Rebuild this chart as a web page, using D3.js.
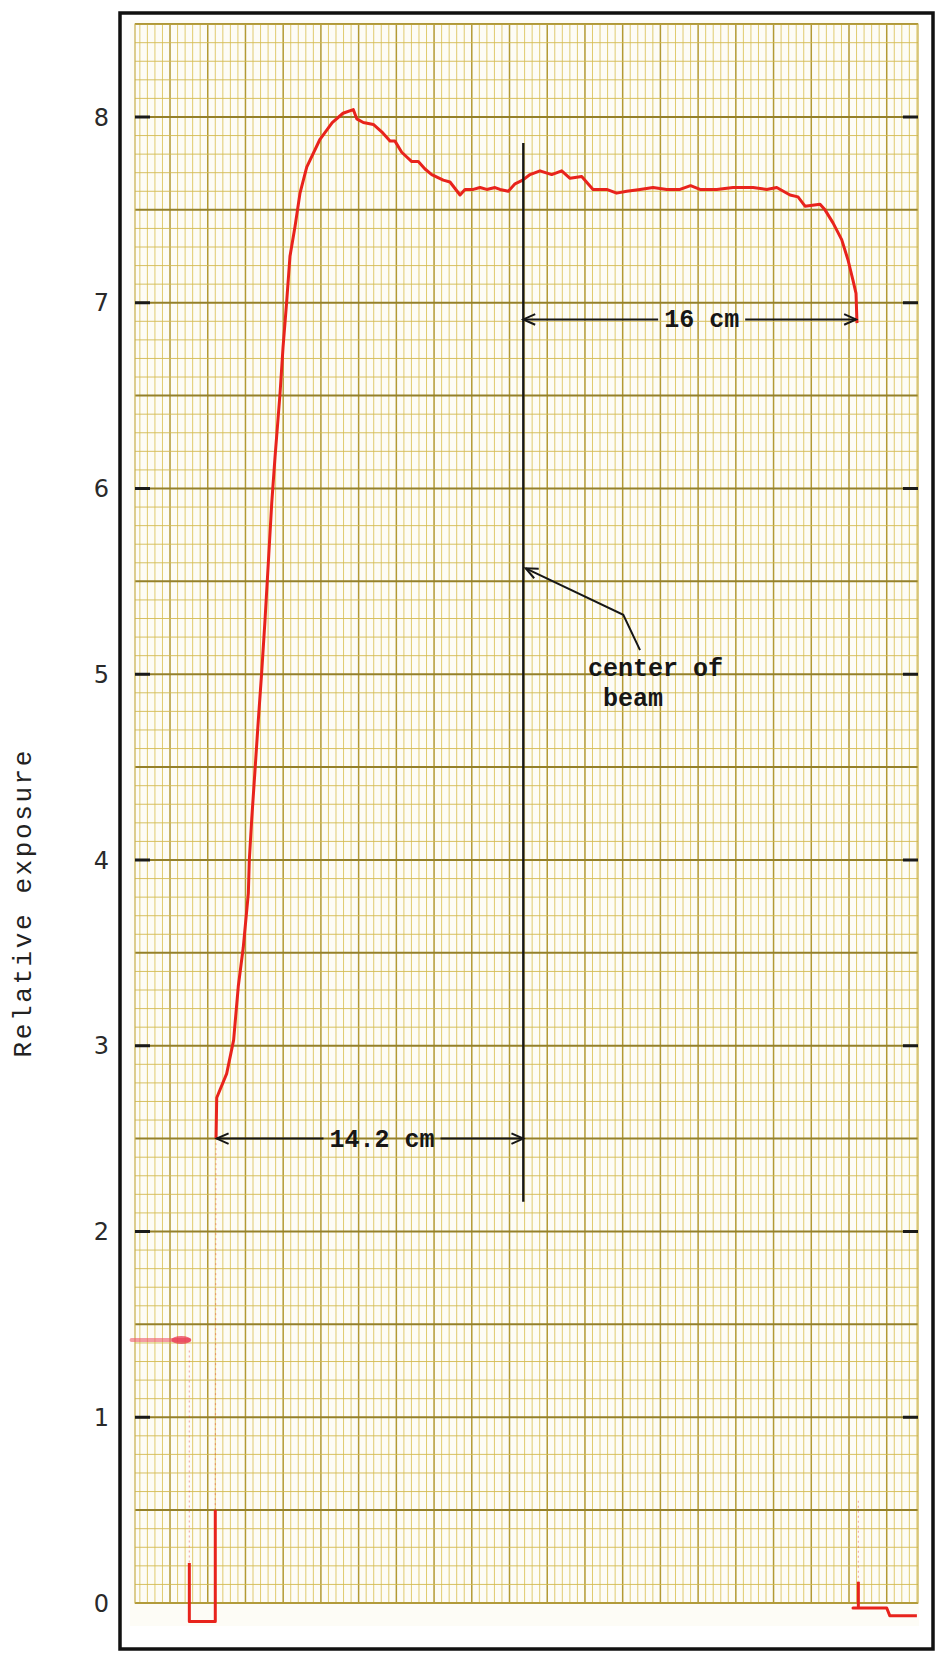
<!DOCTYPE html>
<html>
<head>
<meta charset="utf-8">
<script src="https://cdn.jsdelivr.net/npm/d3@7"></script>
<style>
  body { margin: 0; background: #fff; }
  svg { display: block; }
</style>
</head>
<body>
<div id="chart"></div>
<script>
// x is measured in small divisions of the chart paper, y is relative exposure
let yTicks = [0, 1, 2, 3, 4, 5, 6, 7, 8];

let profilePos = [11.10, 11.19, 12.51, 13.43, 14.05, 14.71, 15.38, 15.51, 15.83, 16.26, 16.70,
  17.15, 17.59, 18.03, 18.48, 18.92, 19.58, 19.98, 20.47, 20.90, 21.57, 22.23, 23.12, 24.88,
  26.50, 27.93, 29.29, 29.75, 30.62, 31.95, 33.06, 34.16, 34.82, 35.71, 37.04, 37.91, 38.80,
  39.69, 41.22, 42.11, 43.44, 44.10, 45.20, 46.09, 46.98, 48.08, 48.74, 49.84, 50.73, 51.75,
  52.72, 54.04, 55.59, 56.92, 58.02, 59.57, 61.07, 62.88, 64.20, 65.54, 67.30, 69.02, 70.84,
  72.60, 74.00, 75.25, 77.47, 79.63, 82.28, 84.09, 85.42, 87.18, 88.24, 89.17, 91.16, 91.82,
  92.88, 94.03, 94.87, 95.53, 95.93, 96.06];
let profileExp = [2.50, 2.72, 2.85, 3.03, 3.32, 3.53, 3.82, 4.00, 4.22, 4.48, 4.75,
  5.01, 5.29, 5.60, 5.92, 6.17, 6.51, 6.76, 7.01, 7.25, 7.41, 7.59, 7.73, 7.88,
  7.97, 8.02, 8.04, 7.99, 7.97, 7.96, 7.92, 7.87, 7.87, 7.81, 7.76, 7.76, 7.72,
  7.69, 7.66, 7.65, 7.58, 7.61, 7.61, 7.62, 7.61, 7.62, 7.61, 7.60, 7.64, 7.66,
  7.69, 7.71, 7.69, 7.71, 7.67, 7.68, 7.61, 7.61, 7.59, 7.60, 7.61, 7.62, 7.61,
  7.61, 7.63, 7.61, 7.61, 7.62, 7.62, 7.61, 7.62, 7.58, 7.57, 7.52, 7.53, 7.50,
  7.43, 7.34, 7.23, 7.12, 7.05, 6.89];

// zero-level pulse at the start of the trace
let pulsePos = [7.56, 7.56, 11.0, 11.0];
let pulseExp = [0.215, -0.10, -0.10, 0.50];
// faint pen trails
let trailPos = [[7.56, 7.56], [11.0, 11.1], [96.24, 96.24]];
let trailExp = [[1.36, 0.215], [0.50, 2.50], [0.55, 0.115]];
// baseline step at the end of the trace
let tailPos = [96.24, 96.24, 95.53, 100.0, 100.4, 104.0];
let tailExp = [0.115, -0.027, -0.027, -0.027, -0.068, -0.068];
// pen test mark near the left edge
let markPos = [-0.1, 7.55];
let markExp = [1.416, 1.416];

// center of beam line and distance arrows
let beamPos = 51.83;
let beamExp = [7.86, 2.16];
let arrows = [
  { label: "16 cm", from: 51.83, to: 95.93, exp: 6.91 },
  { label: "14.2 cm", from: 11.19, to: 51.83, exp: 2.50 }
];
let noteLines = ["center of", " beam"];
let notePos = 60.4, noteExp = 4.99;
let leaderPos = [52.15, 65.08, 67.3];
let leaderExp = [5.57, 5.32, 5.13];

let width = 942, height = 1662;

let x = d3.scaleLinear().domain([0, 104]).range([132.3, 916.9]);
let y = d3.scaleLinear().domain([0, 8.5]).range([1603, 24.1]);

let gridLeft = 135, gridRight = 918;

const svg = d3.select("#chart").append("svg")
  .attr("width", width)
  .attr("height", height)
  .attr("viewBox", `0 0 ${width} ${height}`);

svg.append("rect").attr("width", width).attr("height", height).attr("fill", "#fff");

// frame
svg.append("rect")
  .attr("x", 120).attr("y", 13)
  .attr("width", 813).attr("height", 1636)
  .attr("fill", "none").attr("stroke", "#111").attr("stroke-width", 3.5);

// the paper
svg.append("rect")
  .attr("x", 130).attr("y", 20)
  .attr("width", gridRight - 130 + 1).attr("height", 1626 - 20)
  .attr("fill", "#fdfcf6");

const grid = svg.append("g");

// vertical rulings
let vLines = d3.range(0, 105).filter(i => x(i) > gridLeft + 1 && x(i) < gridRight - 1);
grid.selectAll("line.v")
  .data(vLines)
  .join("line")
  .attr("class", "v")
  .attr("x1", d => x(d)).attr("x2", d => x(d))
  .attr("y1", y(8.5)).attr("y2", y(0))
  .attr("stroke", d => d % 5 === 0 ? "#b39a34" : "#dcc560")
  .attr("stroke-width", d => d % 5 === 0 ? 1.5 : 0.9);

// horizontal rulings
let hLines = d3.range(0, 86);
grid.selectAll("line.h")
  .data(hLines)
  .join("line")
  .attr("class", "h")
  .attr("x1", gridLeft).attr("x2", gridRight)
  .attr("y1", d => y(d / 10)).attr("y2", d => y(d / 10))
  .attr("stroke", d => d % 5 === 0 ? "#94802a" : "#d3ba52")
  .attr("stroke-width", d => d % 5 === 0 ? 2 : 0.9);

// grid border
grid.append("rect")
  .attr("x", gridLeft).attr("y", y(8.5))
  .attr("width", gridRight - gridLeft).attr("height", y(0) - y(8.5))
  .attr("fill", "none").attr("stroke", "#c7ad48").attr("stroke-width", 1.2);

// black tick dashes at whole units
svg.append("g").selectAll("path")
  .data(yTicks.filter(d => d > 0))
  .join("path")
  .attr("d", d => `M${gridLeft},${y(d)}h15M${gridRight - 15},${y(d)}h15`)
  .attr("stroke", "#1a1a1a").attr("stroke-width", 3.2);

// tick labels
svg.append("g").selectAll("text")
  .data(yTicks)
  .join("text")
  .attr("x", 109)
  .attr("y", d => y(d))
  .attr("dy", "0.36em")
  .attr("text-anchor", "end")
  .style("font", "24px 'DejaVu Sans', sans-serif")
  .attr("fill", "#2a2a2a")
  .text(d => d);

// axis title
svg.append("text")
  .attr("transform", `translate(31, ${y(3.77)}) rotate(-90)`)
  .attr("text-anchor", "middle")
  .style("font", "26px 'Liberation Mono', monospace")
  .style("letter-spacing", "2.6px")
  .attr("fill", "#222")
  .text("Relative exposure");

// pen traces
let line = d3.line().x(d => x(d[0])).y(d => y(d[1]));
let zipPts = (xs, ys) => xs.map((v, i) => [v, ys[i]]);
const red = "#e8231c";

trailPos.forEach((xs, i) => {
  svg.append("path")
    .attr("d", line(zipPts(xs, trailExp[i])))
    .attr("fill", "none").attr("stroke", red)
    .attr("stroke-width", 1.2).attr("stroke-opacity", 0.35)
    .attr("stroke-dasharray", "2,3");
});

svg.append("path")
  .attr("d", line(zipPts(markPos, markExp)))
  .attr("fill", "none").attr("stroke", "#ee5a6a")
  .attr("stroke-width", 4).attr("stroke-opacity", 0.6)
  .attr("stroke-linecap", "round");
svg.append("ellipse")
  .attr("cx", x(markPos[1]) - 8).attr("cy", y(markExp[1]))
  .attr("rx", 10).attr("ry", 4)
  .attr("fill", "#e8304a").attr("opacity", 0.7);

[[pulsePos, pulseExp], [tailPos, tailExp], [profilePos, profileExp]].forEach(([xs, ys]) => {
  svg.append("path")
    .attr("d", line(zipPts(xs, ys)))
    .attr("fill", "none").attr("stroke", red)
    .attr("stroke-width", 3)
    .attr("stroke-linejoin", "round");
});

// annotations
const ink = "#161616";
const ann = svg.append("g");

ann.append("line")
  .attr("x1", x(beamPos)).attr("x2", x(beamPos))
  .attr("y1", y(beamExp[0])).attr("y2", y(beamExp[1]))
  .attr("stroke", ink).attr("stroke-width", 2.4);

let arrowHead = function (tx, ty, angle) {
  let len = 13, spread = 0.42;
  let p1 = [tx - len * Math.cos(angle - spread), ty - len * Math.sin(angle - spread)];
  let p2 = [tx - len * Math.cos(angle + spread), ty - len * Math.sin(angle + spread)];
  ann.append("path")
    .attr("d", `M${p1}L${tx},${ty}L${p2}`)
    .attr("fill", "none").attr("stroke", ink).attr("stroke-width", 2);
};

arrows.forEach(a => {
  let t = ann.append("text")
    .attr("x", (x(a.from) + x(a.to)) / 2 + 12)
    .attr("y", y(a.exp))
    .attr("dy", "0.32em")
    .attr("text-anchor", "middle")
    .style("font", "bold 25px 'Liberation Mono', monospace")
    .attr("fill", ink)
    .text(a.label);
  let box = t.node().getBBox();
  let gap = 6;
  ann.append("line")
    .attr("x1", x(a.from)).attr("x2", box.x - gap)
    .attr("y1", y(a.exp)).attr("y2", y(a.exp))
    .attr("stroke", ink).attr("stroke-width", 2);
  ann.append("line")
    .attr("x1", box.x + box.width + gap).attr("x2", x(a.to))
    .attr("y1", y(a.exp)).attr("y2", y(a.exp))
    .attr("stroke", ink).attr("stroke-width", 2);
  arrowHead(x(a.from), y(a.exp), Math.PI);
  arrowHead(x(a.to), y(a.exp), 0);
});

ann.append("text")
  .attr("x", x(notePos))
  .attr("y", y(noteExp))
  .style("font", "bold 25px 'Liberation Mono', monospace")
  .style("white-space", "pre")
  .attr("fill", ink)
  .selectAll("tspan")
  .data(noteLines)
  .join("tspan")
  .attr("x", x(notePos))
  .attr("dy", (d, i) => i === 0 ? 0 : 30)
  .text(d => d);

let leader = zipPts(leaderPos, leaderExp);
ann.append("path")
  .attr("d", line(leader))
  .attr("fill", "none").attr("stroke", ink).attr("stroke-width", 2);
let ang = Math.atan2(y(leader[0][1]) - y(leader[1][1]), x(leader[0][0]) - x(leader[1][0]));
arrowHead(x(leader[0][0]), y(leader[0][1]), ang);
</script>
</body>
</html>
